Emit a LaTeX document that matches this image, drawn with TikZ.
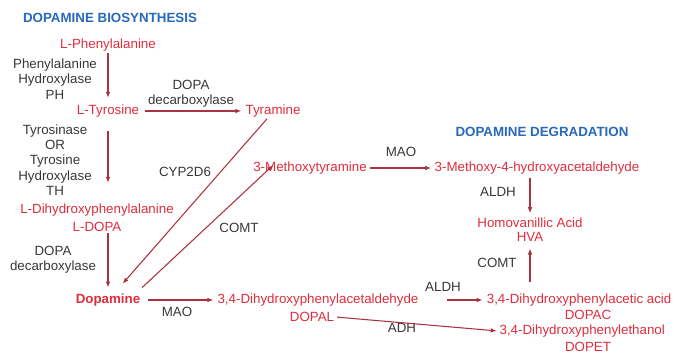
\documentclass[tikz,border=0pt]{standalone}
\usepackage{fontspec}
\setmainfont{Liberation Sans}
\usepackage{xcolor}
\usetikzlibrary{arrows.meta,calc}
\definecolor{cmpdred}{RGB}{222,45,60}
\definecolor{arrred}{RGB}{170,50,65}
\definecolor{ttlblue}{RGB}{40,105,185}
\definecolor{enzgray}{RGB}{55,55,55}

\begin{document}
\begin{tikzpicture}[x=0.75pt,y=-0.75pt,every node/.style={align=center, inner sep=1pt, font=\fontsize{10}{11.5}\selectfont}]
\tikzset{
  cmpd/.style={text=cmpdred},
  enz/.style={text=enzgray},
  ttl/.style={text=ttlblue, font=\fontsize{10}{11.5}\selectfont\bfseries},
  arr/.style={draw=arrred, line width=0.8pt, -{Latex[length=4.5pt,width=3.5pt]}}
}
\useasboundingbox (0,0) rectangle (674,362);
% titles
\node[ttl] (ttlsyn) at (110,18) {DOPAMINE BIOSYNTHESIS};
\node[ttl] (ttldeg) at (542,132) {DOPAMINE DEGRADATION};
% compounds
\node[cmpd] (phe) at (108,45) {L-Phenylalanine};
\node[cmpd] (tyr) at (108,111) {L-Tyrosine};
\node[cmpd] (tyra) at (273,111) {Tyramine};
\node[cmpd] (ldopa) at (97,210) {L-Dihydroxyphenylalanine};
\node[cmpd] (ldopaab) at (97,227) {L-DOPA};
\node[cmpd, font=\fontsize{10}{11.5}\selectfont\bfseries] (da) at (108,300) {Dopamine};
\node[cmpd] (mt) at (310,168) {3-Methoxytyramine};
\node[cmpd] (mhpa) at (537,168) {3-Methoxy-4-hydroxyacetaldehyde};
\node[cmpd] (hva) at (530,223) {Homovanillic Acid};
\node[cmpd] (hvaab) at (530,237) {HVA};
\node[cmpd] (dopal) at (318,300) {3,4-Dihydroxyphenylacetaldehyde};
\node[cmpd] (dopalab) at (312,317) {DOPAL};
\node[cmpd, anchor=east] (dopac) at (673,300) {3,4-Dihydroxyphenylacetic acid};
\node[cmpd] (dopacab) at (588,315) {DOPAC};
\node[cmpd, anchor=west] (dopet) at (498,331) {3,4-Dihydroxyphenylethanol};
\node[cmpd] (dopetab) at (588,347) {DOPET};
% enzymes
\node[enz] (ph) at (55,79) {Phenylalanine\\Hydroxylase\\PH};
\node[enz] (ddcup) at (191,94) {DOPA\\decarboxylase};
\node[enz] (th) at (55,160) {Tyrosinase\\OR\\Tyrosine\\Hydroxylase\\TH};
\node[enz] (cyp) at (185,172) {CYP2D6};
\node[enz] (comtl) at (239,228) {COMT};
\node[enz] (ddclow) at (53,260) {DOPA\\decarboxylase};
\node[enz] (maol) at (177,312) {MAO};
\node[enz] (maor) at (401,152) {MAO};
\node[enz] (aldhup) at (498,192) {ALDH};
\node[enz] (comtr) at (497,263) {COMT};
\node[enz] (aldhlow) at (443,287) {ALDH};
\node[enz] (adh) at (402,328) {ADH};
% biosynthesis
\draw[arr, shorten >=4pt] (phe.south) -- (tyr.north);
\draw[arr, shorten <=9pt, shorten >=14.5pt] (tyr.south) -- (tyr.south |- ldopa.north);
\draw[arr, shorten >=3.5pt] (tyr.south |- ldopaab.south) -- (da.north);
\draw[arr, shorten <=3pt, shorten >=2pt] (tyr.east) -- (tyra.west);
\draw[arr] ([xshift=-4.5pt]tyra.south) -- ([xshift=11pt,yshift=6.4pt]da.north);
\draw[arr] ([xshift=25.5pt,yshift=3.4pt]da.north) -- ([xshift=-27.75pt,yshift=7.9pt]mt.south);
% degradation
\draw[arr, shorten <=4.5pt, shorten >=2pt] (da.east) -- (dopal.west);
\draw[arr, shorten <=1.5pt, shorten >=1.5pt] (mt.east) -- (mhpa.west);
\draw[arr, shorten <=2pt, shorten >=2.5pt] (hva.north |- mhpa.south) -- (hva.north);
\draw[arr, shorten <=20pt, shorten >=2pt] (dopal.east) -- (dopac.west);
\draw[arr, shorten <=1pt, shorten >=1pt] (dopalab.east) -- (dopet.west);
\draw[arr, shorten <=8pt, shorten >=4pt] (hvaab.south |- dopac.north) -- (hvaab.south);
\end{tikzpicture}
\end{document}
